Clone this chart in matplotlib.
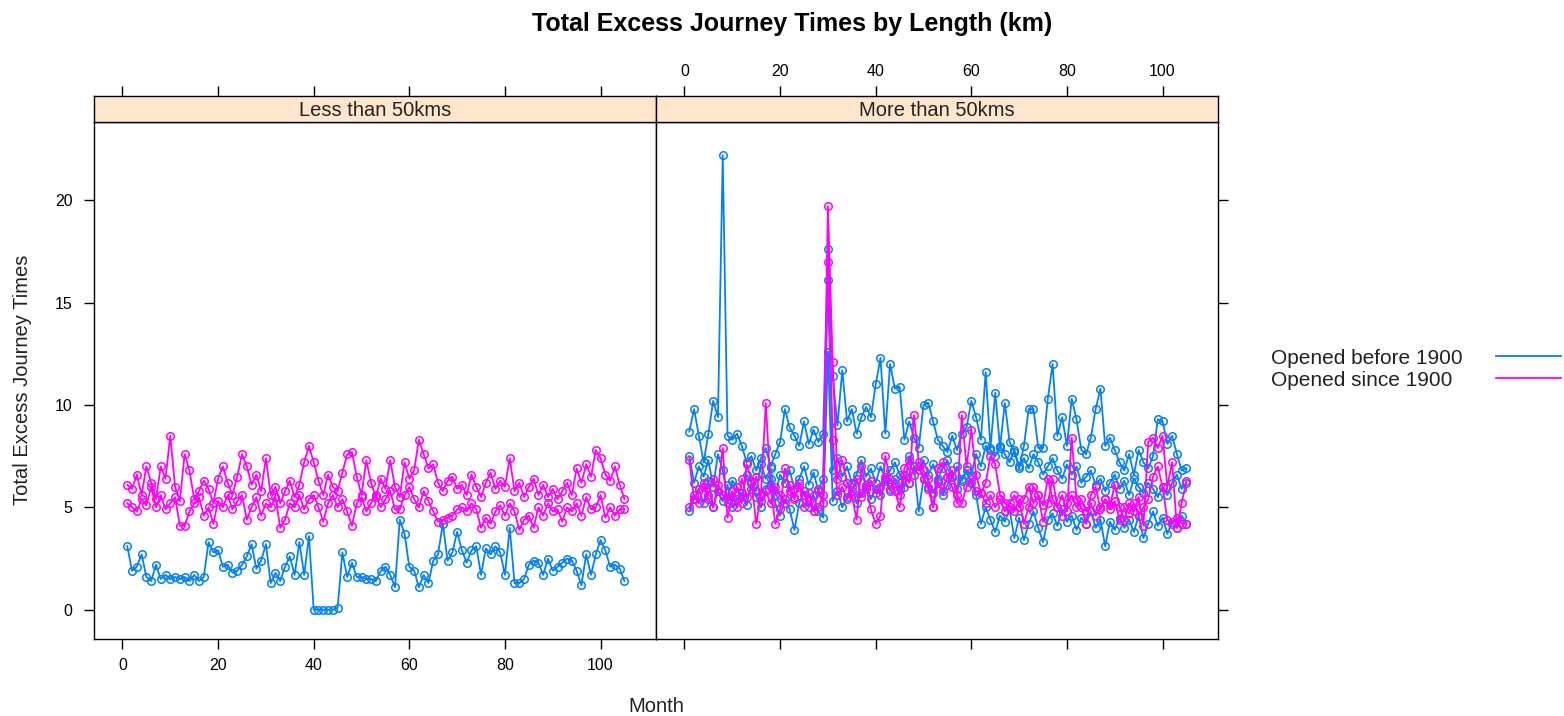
import numpy as np
import matplotlib
matplotlib.use("Agg")
import matplotlib.pyplot as plt
from matplotlib.lines import Line2D

plt.rcParams['font.family'] = ['Liberation Sans', 'DejaVu Sans']

# ---------------- data ----------------
panels = ["Less than 50kms", "More than 50kms"]
groups = ["Opened before 1900", "Opened since 1900"]
colors = {"Opened before 1900": "#0080ff", "Opened since 1900": "#ff00ff"}

less_before_1 = [
    3.1, 1.9, 2.1, 2.7, 1.6, 1.4, 2.2, 1.5, 1.7, 1.5,
    1.6, 1.5, 1.6, 1.4, 1.7, 1.4, 1.6, 3.3, 2.8, 2.9,
    2.1, 2.2, 1.8, 1.9, 2.2, 2.6, 3.2, 2.0, 2.4, 3.2,
    1.3, 1.8, 1.4, 2.1, 2.6, 1.7, 3.3, 1.7, 3.6, 0.0,
    0.0, 0.0, 0.0, 0.0, 0.1, 2.8, 1.6, 2.3, 1.6, 1.6,
    1.5, 1.5, 1.4, 1.9, 2.1, 1.7, 1.1, 4.4, 3.7, 2.1,
    1.9, 1.1, 1.7, 1.3, 2.4, 2.7, 4.2, 2.4, 2.8, 3.8,
    2.9, 2.3, 2.9, 3.1, 1.7, 3.0, 2.7, 3.1, 2.8, 1.7,
    4.0, 1.3, 1.3, 1.5, 2.2, 2.4, 2.3, 1.7, 2.5, 1.9,
    2.1, 2.3, 2.5, 2.4, 1.9, 1.2, 2.7, 1.7, 2.7, 3.4,
    2.9, 2.1, 2.2, 2.0, 1.4]

less_since_1 = [
    6.1, 5.9, 6.6, 5.6, 7.0, 6.2, 5.4, 7.0, 6.4, 8.5,
    6.0, 5.3, 7.6, 6.8, 5.4, 5.8, 6.3, 5.9, 5.2, 6.4,
    7.0, 6.2, 5.6, 6.5, 7.6, 7.0, 6.1, 6.6, 5.8, 7.4,
    5.6, 6.0, 5.2, 5.8, 6.3, 5.5, 6.1, 7.2, 8.0, 7.2,
    6.3, 5.6, 6.6, 6.0, 5.8, 6.7, 7.6, 7.7, 6.5, 5.6,
    7.3, 6.2, 5.5, 6.4, 5.9, 7.3, 6.0, 5.5, 7.2, 6.4,
    6.8, 8.3, 7.6, 6.9, 7.1, 6.2, 5.8, 6.3, 6.5, 5.9,
    6.1, 5.6, 6.6, 6.0, 5.5, 6.2, 6.7, 5.9, 6.3, 6.0,
    7.4, 5.8, 6.2, 5.5, 6.0, 6.4, 5.6, 6.1, 5.5, 5.9,
    5.4, 5.8, 6.2, 5.6, 6.9, 6.2, 7.1, 6.5, 7.8, 7.4,
    6.6, 6.3, 7.0, 6.1, 5.4]

less_since_2 = [
    5.2, 5.0, 4.8, 5.4, 5.1, 6.0, 5.0, 5.6, 4.9, 5.2,
    5.5, 4.1, 4.1, 4.8, 5.2, 5.5, 4.6, 5.0, 4.2, 5.3,
    5.0, 5.6, 4.9, 5.3, 5.6, 4.4, 5.0, 5.5, 4.6, 5.2,
    5.0, 5.5, 4.0, 4.4, 5.2, 5.0, 5.6, 4.9, 5.4, 5.6,
    5.0, 4.3, 5.2, 5.6, 5.0, 5.4, 4.8, 4.1, 5.2, 5.5,
    4.8, 5.2, 5.6, 5.0, 5.4, 5.8, 4.9, 4.9, 5.6, 6.0,
    5.4, 5.0, 5.8, 5.3, 4.8, 4.3, 4.4, 4.5, 4.6, 4.9,
    5.0, 4.8, 5.2, 4.9, 4.0, 4.5, 4.2, 4.8, 5.1, 4.6,
    5.2, 4.8, 3.9, 4.4, 4.6, 4.0, 5.0, 4.6, 5.2, 4.8,
    4.9, 4.3, 5.0, 4.8, 5.2, 4.6, 5.5, 4.9, 5.0, 5.6,
    4.5, 5.0, 4.6, 4.9, 4.9]

more_before_1 = [
    8.7, 9.8, 8.5, 7.2, 8.6, 10.2, 9.4, 22.2, 8.5, 8.3,
    8.6, 8.0, 7.2, 7.5, 6.8, 7.4, 7.9, 7.0, 7.6, 8.2,
    9.8, 8.9, 8.5, 8.0, 9.2, 8.1, 8.8, 8.2, 8.6, 17.6,
    11.4, 9.0, 11.7, 9.2, 9.8, 8.6, 9.4, 9.9, 9.4, 11.0,
    12.3, 8.6, 12.0, 10.8, 10.9, 8.3, 9.2, 8.4, 7.9, 10.0,
    10.1, 9.2, 8.3, 8.0, 7.7, 8.5, 7.8, 8.6, 8.9, 10.2,
    9.4, 8.3, 11.6, 7.9, 10.6, 7.9, 10.1, 8.2, 7.7, 6.9,
    8.0, 9.8, 9.8, 7.9, 7.9, 10.3, 12.0, 8.5, 9.4, 8.0,
    10.3, 9.3, 7.8, 7.6, 8.4, 9.8, 10.8, 8.0, 8.4, 7.8,
    7.2, 6.8, 7.6, 6.6, 7.8, 7.2, 6.9, 7.5, 9.3, 9.2,
    8.1, 8.5, 7.6, 6.8, 6.9]

more_before_2 = [
    7.5, 6.2, 7.0, 6.5, 7.3, 6.0, 7.6, 6.8, 5.4, 6.3,
    6.0, 5.5, 6.6, 6.2, 5.8, 7.1, 6.4, 6.9, 5.6, 6.6,
    6.2, 6.8, 5.9, 6.4, 7.0, 6.1, 6.7, 5.8, 6.4, 16.1,
    6.8, 7.4, 6.5, 7.0, 6.2, 6.6, 7.3, 6.5, 6.9, 6.2,
    7.0, 6.4, 6.8, 7.2, 6.6, 6.0, 7.5, 7.0, 6.8, 7.3,
    6.6, 7.1, 6.4, 6.9, 7.3, 6.5, 7.0, 6.3, 6.8, 6.6,
    7.6, 7.0, 8.0, 7.8, 7.5, 8.0, 7.6, 7.2, 7.8, 7.0,
    7.4, 6.9, 7.6, 7.2, 6.6, 7.0, 7.4, 6.8, 6.4, 7.1,
    6.6, 7.0, 6.2, 6.5, 6.8, 6.1, 6.4, 5.8, 6.2, 6.6,
    5.9, 6.3, 5.6, 6.4, 6.0, 5.7, 6.2, 5.9, 5.5, 6.0,
    5.6, 6.2, 6.6, 5.9, 6.2]

more_before_3 = [
    4.8, 5.4, 5.9, 5.2, 6.3, 5.0, 5.8, 5.3, 6.1, 5.0,
    5.4, 5.7, 5.1, 6.2, 5.5, 5.0, 5.9, 6.4, 5.2, 4.6,
    5.4, 4.9, 3.9, 5.2, 5.8, 5.0, 5.6, 4.8, 4.5, 12.6,
    5.3, 5.8, 5.0, 5.5, 6.0, 5.2, 5.7, 6.1, 5.4, 5.9,
    5.6, 6.3, 5.8, 6.4, 5.9, 6.6, 6.2, 7.0, 4.8, 6.4,
    6.0, 5.7, 6.3, 5.6, 6.1, 6.5, 5.9, 6.4, 6.8, 6.2,
    5.6, 4.2, 5.0, 4.4, 3.8, 4.6, 4.3, 4.9, 3.5, 4.5,
    3.4, 4.2, 4.8, 4.0, 3.3, 4.4, 4.7, 4.1, 4.9, 4.3,
    4.6, 3.9, 4.5, 4.2, 4.8, 4.0, 4.4, 3.1, 4.3, 3.9,
    4.5, 4.0, 4.4, 3.8, 4.6, 3.5, 4.2, 4.8, 4.1, 4.5,
    3.7, 4.3, 4.0, 4.6, 4.2]

more_since_1 = [
    7.3, 5.4, 5.9, 6.2, 5.6, 6.4, 5.8, 7.9, 4.5, 5.5,
    6.0, 5.2, 7.1, 6.3, 4.2, 5.6, 10.1, 6.0, 4.2, 4.9,
    6.9, 5.8, 5.4, 6.2, 5.0, 5.7, 4.8, 5.9, 5.2, 19.7,
    12.1, 6.4, 7.3, 6.2, 5.6, 4.4, 7.0, 6.0, 4.9, 4.2,
    4.6, 7.5, 6.4, 5.8, 5.0, 6.6, 6.2, 9.5, 7.2, 6.8,
    6.4, 5.0, 6.9, 7.2, 6.5, 6.0, 5.2, 9.5, 7.0, 8.8,
    6.6, 5.7, 6.2, 7.5, 7.1, 5.6, 5.2, 5.0, 4.8, 5.4,
    4.2, 5.0, 6.0, 5.6, 4.3, 5.2, 6.4, 5.0, 5.6, 4.8,
    8.4, 5.4, 5.0, 4.2, 5.6, 6.0, 4.9, 5.4, 5.1, 6.1,
    5.0, 4.4, 5.2, 4.8, 5.5, 4.1, 8.2, 8.4, 7.9, 8.5,
    6.0, 7.2, 4.0, 5.2, 6.3]

more_since_2 = [
    5.0, 5.6, 5.2, 6.0, 5.4, 5.0, 6.1, 5.6, 5.2, 5.8,
    5.0, 6.4, 5.5, 5.9, 6.5, 5.3, 5.8, 5.2, 6.0, 5.6,
    5.2, 6.1, 5.5, 6.0, 5.6, 5.3, 4.8, 5.0, 5.6, 17.0,
    8.3, 5.6, 6.0, 5.4, 5.8, 6.4, 5.5, 5.9, 6.3, 5.7,
    6.0, 6.5, 5.9, 6.2, 5.6, 6.9, 7.3, 6.6, 7.0, 6.4,
    5.9, 5.0, 6.2, 5.8, 6.5, 6.8, 5.6, 5.2, 6.0, 6.4,
    5.8, 5.7, 5.2, 5.6, 5.0, 5.4, 4.8, 5.2, 5.6, 5.0,
    5.4, 6.0, 5.2, 5.6, 5.1, 6.4, 5.4, 5.0, 4.6, 5.2,
    5.6, 5.0, 5.4, 4.8, 5.2, 4.6, 5.0, 5.4, 4.9, 5.3,
    4.4, 5.0, 4.7, 5.2, 4.6, 5.0, 5.4, 6.5, 7.0, 6.0,
    4.4, 4.2, 4.5, 4.2, 4.2]

series = {
    "Less than 50kms": [("Opened before 1900", less_before_1),
                        ("Opened since 1900", less_since_1),
                        ("Opened since 1900", less_since_2)],
    "More than 50kms": [("Opened before 1900", more_before_1),
                        ("Opened before 1900", more_before_2),
                        ("Opened before 1900", more_before_3),
                        ("Opened since 1900", more_since_1),
                        ("Opened since 1900", more_since_2)],
}
x_ticks = [0, 20, 40, 60, 80, 100]
y_ticks = [0, 5, 10, 15, 20]

# ---------------- layout ----------------
W, H = 1564, 716
fig = plt.figure(figsize=(W / 100, H / 100), dpi=100)


def rect(x0, y0, x1, y1):
    return [x0 / W, 1 - y1 / H, (x1 - x0) / W, (y1 - y0) / H]


xlim = (-5.96, 111.6)
ylim = (-1.43, 23.82)
tick_len = 7.5
strip_col = "#ffe5cc"

ax1 = fig.add_axes(rect(94, 122, 656, 639))
ax2 = fig.add_axes(rect(656, 122, 1218, 639))
s1 = fig.add_axes(rect(94, 96, 656, 122))
s2 = fig.add_axes(rect(656, 96, 1218, 122))

for ax, name in zip([ax1, ax2], panels):
    for grp, vals in series[name]:
        months = np.arange(1, len(vals) + 1)
        ax.plot(months, vals, color=colors[grp], lw=1.3, marker='o',
                ms=5.4, mfc='none', mec=colors[grp], mew=1.1, zorder=3)
    ax.set_xlim(*xlim)
    ax.set_ylim(*ylim)
    ax.set_xticks(x_ticks)
    ax.set_yticks(y_ticks)
    for sp in ax.spines.values():
        sp.set_linewidth(1.0)

ax1.tick_params(axis='x', which='both', direction='out', length=tick_len,
                width=1, labelsize=11.5, pad=6, top=False, bottom=True)
ax1.tick_params(axis='y', which='both', direction='out', length=tick_len,
                width=1, labelsize=11.5, pad=8, left=True, right=False)
ax2.tick_params(axis='x', direction='out', length=tick_len, width=1,
                bottom=True, top=False, labelbottom=False)
ax2.tick_params(axis='y', direction='out', length=tick_len, width=1,
                left=False, right=True, labelleft=False, labelright=False)

for s, name, lab in [(s1, panels[0], False), (s2, panels[1], True)]:
    s.set_facecolor(strip_col)
    s.set_xlim(*xlim)
    s.set_ylim(0, 1)
    s.set_yticks([])
    s.set_xticks(x_ticks)
    s.tick_params(axis='x', direction='out', length=tick_len, width=1,
                  bottom=False, top=True, labelbottom=False, labeltop=lab,
                  labelsize=11.5, pad=5)
    for sp in s.spines.values():
        sp.set_linewidth(1.0)
    s.text(0.5, 0.45, name, transform=s.transAxes, ha='center', va='center',
           fontsize=14.5, color='#222222')

# titles / labels
fig.text(792 / W, 1 - 24 / H, "Total Excess Journey Times by Length (km)",
         ha='center', va='center', fontsize=18, fontweight='bold')
fig.text(656 / W, 1 - 706 / H, "Month", ha='center', va='center', fontsize=14.5,
         color='#222222')
fig.text(23 / W, 1 - 380 / H, "Total Excess Journey Times", ha='center',
         va='center', rotation=90, fontsize=14.5, color='#222222')

# legend
for i, grp in enumerate(groups):
    yc = 358 + i * 22
    fig.text(1271 / W, 1 - yc / H, grp, ha='left', va='center', fontsize=15,
             color='#222222')
    fig.add_artist(Line2D([1496 / W, 1561 / W], [1 - (yc - 2) / H, 1 - (yc - 2) / H],
                          color=colors[grp], lw=1.3, transform=fig.transFigure))

fig.savefig("out.png", dpi=100)
